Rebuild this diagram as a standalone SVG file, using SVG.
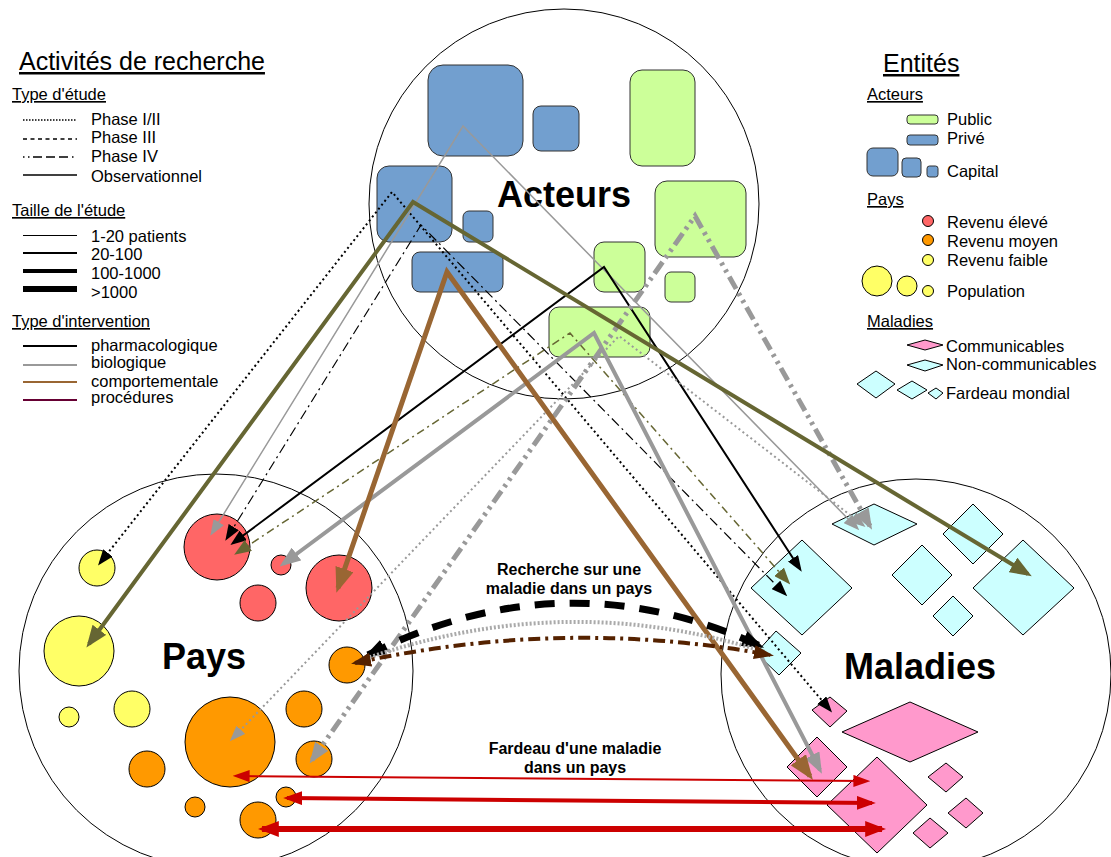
<svg xmlns="http://www.w3.org/2000/svg" width="1111" height="857" viewBox="0 0 1111 857">
  <style>
    text { font-family: "Liberation Sans", Arial, sans-serif; fill: #000; }
    .title { font-size: 25px; text-decoration: underline; }
    .sub { font-size: 16.5px; text-decoration: underline; }
    .lg { font-size: 16.5px; }
    .big { font-size: 36px; font-weight: bold; }
    .lbl { font-size: 16px; font-weight: bold; text-anchor: middle; }
    .zone { fill: none; stroke: #000; stroke-width: 1; }
    .priv { fill: #729fcf; stroke: #333; stroke-width: 1; }
    .pub { fill: #ccff99; stroke: #333; stroke-width: 1; }
    .hi { fill: #ff6666; stroke: #000; stroke-width: 1; }
    .mid { fill: #ff9900; stroke: #000; stroke-width: 1; }
    .lo { fill: #ffff66; stroke: #000; stroke-width: 1; }
    .nc { fill: #ccffff; stroke: #000; stroke-width: 1; }
    .cm { fill: #ff99cc; stroke: #000; stroke-width: 1; }
    .c { fill: none; stroke-linejoin: miter; }
  </style>
  <defs>
    <marker id="blk-s" viewBox="0 0 10 10" refX="8" refY="5" markerWidth="16" markerHeight="12" markerUnits="userSpaceOnUse" orient="auto-start-reverse" preserveAspectRatio="none"><path d="M0,0 L10,5 L0,10 z" fill="#000"/></marker>
    <marker id="blk-l" viewBox="0 0 10 10" refX="8" refY="5" markerWidth="22" markerHeight="16" markerUnits="userSpaceOnUse" orient="auto-start-reverse" preserveAspectRatio="none"><path d="M0,0 L10,5 L0,10 z" fill="#000"/></marker>
    <marker id="gry-s" viewBox="0 0 10 10" refX="8" refY="5" markerWidth="16" markerHeight="12" markerUnits="userSpaceOnUse" orient="auto-start-reverse" preserveAspectRatio="none"><path d="M0,0 L10,5 L0,10 z" fill="#999"/></marker>
    <marker id="gry-m" viewBox="0 0 10 10" refX="8" refY="5" markerWidth="21" markerHeight="16" markerUnits="userSpaceOnUse" orient="auto-start-reverse" preserveAspectRatio="none"><path d="M0,0 L10,5 L0,10 z" fill="#999"/></marker>
    <marker id="olv-s" viewBox="0 0 10 10" refX="8" refY="5" markerWidth="17" markerHeight="13" markerUnits="userSpaceOnUse" orient="auto-start-reverse" preserveAspectRatio="none"><path d="M0,0 L10,5 L0,10 z" fill="#666633"/></marker>
    <marker id="olv-m" viewBox="0 0 10 10" refX="8" refY="5" markerWidth="22" markerHeight="17" markerUnits="userSpaceOnUse" orient="auto-start-reverse" preserveAspectRatio="none"><path d="M0,0 L10,5 L0,10 z" fill="#666633"/></marker>
    <marker id="brn-l" viewBox="0 0 10 10" refX="8" refY="5" markerWidth="25" markerHeight="19" markerUnits="userSpaceOnUse" orient="auto-start-reverse" preserveAspectRatio="none"><path d="M0,0 L10,5 L0,10 z" fill="#996633"/></marker>
    <marker id="dbr-m" viewBox="0 0 10 10" refX="8" refY="5" markerWidth="20" markerHeight="14" markerUnits="userSpaceOnUse" orient="auto-start-reverse" preserveAspectRatio="none"><path d="M0,0 L10,5 L0,10 z" fill="#552200"/></marker>
    <marker id="red-s" viewBox="0 0 10 10" refX="8" refY="5" markerWidth="17" markerHeight="12" markerUnits="userSpaceOnUse" orient="auto-start-reverse" preserveAspectRatio="none"><path d="M0,0 L10,5 L0,10 z" fill="#cc0000"/></marker>
    <marker id="red-m" viewBox="0 0 10 10" refX="8" refY="5" markerWidth="19" markerHeight="14" markerUnits="userSpaceOnUse" orient="auto-start-reverse" preserveAspectRatio="none"><path d="M0,0 L10,5 L0,10 z" fill="#cc0000"/></marker>
    <marker id="red-l" viewBox="0 0 10 10" refX="8" refY="5" markerWidth="21" markerHeight="16" markerUnits="userSpaceOnUse" orient="auto-start-reverse" preserveAspectRatio="none"><path d="M0,0 L10,5 L0,10 z" fill="#cc0000"/></marker>
  </defs>

  <rect width="1111" height="857" fill="#fff"/>

  <!-- Left legend: research activities -->
  <g id="legend-activites">
    <text class="title" x="19" y="70">Activités de recherche</text>
    <text class="sub" x="12" y="100">Type d'étude</text>
    <line x1="23" y1="120" x2="77" y2="120" stroke="#000" stroke-width="1.5" stroke-dasharray="1.5,1.5"/>
    <text class="lg" x="91" y="125">Phase I/II</text>
    <line x1="23" y1="139" x2="77" y2="139" stroke="#000" stroke-width="1.5" stroke-dasharray="4,3.5"/>
    <text class="lg" x="91" y="143">Phase III</text>
    <line x1="23" y1="157" x2="77" y2="157" stroke="#000" stroke-width="1.5" stroke-dasharray="1.5,3.5,1.5,3.5,9,4,9,4,9,4"/>
    <text class="lg" x="91" y="162">Phase IV</text>
    <line x1="23" y1="175" x2="77" y2="175" stroke="#000" stroke-width="1.5"/>
    <text class="lg" x="91" y="182">Observationnel</text>

    <text class="sub" x="12" y="216">Taille de l'étude</text>
    <line x1="23" y1="235.5" x2="77" y2="235.5" stroke="#000" stroke-width="1"/>
    <text class="lg" x="91" y="242">1-20 patients</text>
    <line x1="23" y1="253" x2="77" y2="253" stroke="#000" stroke-width="2"/>
    <text class="lg" x="91" y="260">20-100</text>
    <line x1="23" y1="271" x2="77" y2="271" stroke="#000" stroke-width="4"/>
    <text class="lg" x="91" y="279">100-1000</text>
    <line x1="23" y1="289" x2="77" y2="289" stroke="#000" stroke-width="6"/>
    <text class="lg" x="91" y="298">&gt;1000</text>

    <text class="sub" x="12" y="327">Type d'intervention</text>
    <line x1="23" y1="346" x2="77" y2="346" stroke="#000" stroke-width="2"/>
    <text class="lg" x="91" y="351">pharmacologique</text>
    <line x1="23" y1="365" x2="77" y2="365" stroke="#999" stroke-width="2"/>
    <text class="lg" x="91" y="368">biologique</text>
    <line x1="23" y1="382" x2="77" y2="382" stroke="#996633" stroke-width="2"/>
    <text class="lg" x="91" y="387">comportementale</text>
    <line x1="23" y1="400" x2="77" y2="400" stroke="#660033" stroke-width="2"/>
    <text class="lg" x="91" y="403">procédures</text>
  </g>

  <!-- Right legend: entities -->
  <g id="legend-entites">
    <text class="title" x="883" y="72">Entités</text>
    <text class="sub" x="867" y="100">Acteurs</text>
    <rect class="pub" x="907" y="115" width="31" height="9" rx="3"/>
    <text class="lg" x="947" y="125">Public</text>
    <rect class="priv" x="907" y="135" width="31" height="10" rx="3"/>
    <text class="lg" x="947" y="144">Privé</text>
    <rect class="priv" x="867" y="148" width="31" height="28" rx="6"/>
    <rect class="priv" x="902" y="158" width="19" height="19" rx="4"/>
    <rect class="priv" x="927" y="166" width="11" height="11" rx="2.5"/>
    <text class="lg" x="947" y="177">Capital</text>

    <text class="sub" x="867" y="205">Pays</text>
    <circle class="hi" cx="928" cy="221" r="5.5"/>
    <text class="lg" x="947" y="228">Revenu élevé</text>
    <circle class="mid" cx="928" cy="240" r="5.5"/>
    <text class="lg" x="947" y="247">Revenu moyen</text>
    <circle class="lo" cx="928" cy="260" r="5.5"/>
    <text class="lg" x="947" y="266">Revenu faible</text>
    <circle class="lo" cx="877" cy="281" r="15"/>
    <circle class="lo" cx="907" cy="286" r="10"/>
    <circle class="lo" cx="928" cy="291" r="5.5"/>
    <text class="lg" x="947" y="297">Population</text>

    <text class="sub" x="867" y="327">Maladies</text>
    <polygon class="cm" points="907,345 925,340 943,345 925,350"/>
    <text class="lg" x="946" y="352">Communicables</text>
    <polygon class="nc" points="907,365 925,360 943,365 925,371"/>
    <text class="lg" x="946" y="370">Non-communicables</text>
    <polygon class="nc" points="857,384 876,371 895,384 876,398"/>
    <polygon class="nc" points="897,390 912,381 927,390 912,399"/>
    <polygon class="nc" points="928,393 936,388 943,393 936,399"/>
    <text class="lg" x="946" y="399">Fardeau mondial</text>
  </g>

  <!-- Actors -->
  <g id="acteurs">
    <circle class="zone" cx="564" cy="204" r="195"/>
    <rect class="priv" x="428" y="65" width="95" height="91" rx="15"/>
    <rect class="priv" x="533" y="106" width="46" height="45" rx="8"/>
    <rect class="priv" x="377" y="166" width="75" height="76" rx="12"/>
    <rect class="priv" x="463" y="211" width="30" height="31" rx="6"/>
    <rect class="priv" x="412" y="252" width="91" height="40" rx="8"/>
    <rect class="pub" x="630" y="70" width="65" height="96" rx="12"/>
    <rect class="pub" x="655" y="181" width="91" height="76" rx="12"/>
    <rect class="pub" x="594" y="242" width="51" height="50" rx="10"/>
    <rect class="pub" x="665" y="272" width="30" height="30" rx="6"/>
    <rect class="pub" x="549" y="307" width="101" height="50" rx="10"/>
    <text class="big" x="564" y="207" text-anchor="middle">Acteurs</text>
  </g>

  <!-- Countries -->
  <g id="pays">
    <circle class="zone" cx="216" cy="671" r="197"/>
    <circle class="lo" cx="97" cy="568" r="18"/>
    <circle class="lo" cx="79" cy="651" r="35"/>
    <circle class="lo" cx="69" cy="717" r="10"/>
    <circle class="lo" cx="132" cy="709" r="18"/>
    <circle class="hi" cx="217" cy="547" r="33"/>
    <circle class="hi" cx="281" cy="565" r="10"/>
    <circle class="hi" cx="258" cy="603" r="18"/>
    <circle class="hi" cx="339" cy="588" r="33"/>
    <circle class="mid" cx="347" cy="665" r="18"/>
    <circle class="mid" cx="230" cy="742" r="45"/>
    <circle class="mid" cx="304" cy="709" r="18"/>
    <circle class="mid" cx="314" cy="759" r="18"/>
    <circle class="mid" cx="147" cy="769" r="18"/>
    <circle class="mid" cx="195" cy="807" r="10"/>
    <circle class="mid" cx="286" cy="797" r="10"/>
    <circle class="mid" cx="258" cy="820" r="18"/>
    <text class="big" x="162" y="669">Pays</text>
  </g>

  <!-- Diseases -->
  <g id="maladies">
    <circle class="zone" cx="916" cy="674" r="195"/>
    <polygon class="nc" points="832,524 874,504 917,524 874,545"/>
    <polygon class="nc" points="751,588 802,540 852,588 802,635"/>
    <polygon class="nc" points="943,534 973,504 1003,534 973,564"/>
    <polygon class="nc" points="892,575 922,545 952,575 922,605"/>
    <polygon class="nc" points="933,616 953,596 973,616 953,636"/>
    <polygon class="nc" points="973,588 1023,540 1074,588 1023,635"/>
    <polygon class="nc" points="756,653 776,631 801,653 779,675"/>
    <polygon class="cm" points="812,710 830,697 847,711 830,727"/>
    <polygon class="cm" points="842,732 910,702 978,732 910,762"/>
    <polygon class="cm" points="787,767 817,737 847,767 817,797"/>
    <polygon class="cm" points="827,805 877,757 927,805 877,853"/>
    <polygon class="cm" points="928,777 946,763 963,777 946,792"/>
    <polygon class="cm" points="948,813 966,798 983,813 966,828"/>
    <polygon class="cm" points="913,833 930,818 948,833 930,848"/>
    <text class="big" x="844" y="679">Maladies</text>
  </g>

  <!-- Labels of the country/disease links -->
  <g id="labels">
    <text class="lbl" x="569" y="575">Recherche sur une</text>
    <text class="lbl" x="569" y="594">maladie dans un pays</text>
    <text class="lbl" x="575" y="754">Fardeau d'une maladie</text>
    <text class="lbl" x="575" y="773">dans un pays</text>
  </g>

  <!-- Connectors: research activities (country <- actor -> disease) and links -->
  <g id="connecteurs">
    <path class="c" d="M100,563 L392,192 L830,710" stroke="#000" stroke-width="2" stroke-dasharray="2,3" marker-start="url(#blk-s)" marker-end="url(#blk-s)"/>
    <path class="c" d="M212,533 L463,126 L857,528" stroke="#999" stroke-width="1.5" marker-start="url(#gry-s)" marker-end="url(#gry-s)"/>
    <path class="c" d="M227,538 L421,225 L785,594" stroke="#000" stroke-width="1.2" stroke-dasharray="10,4,2,4" marker-start="url(#blk-s)" marker-end="url(#blk-s)"/>
    <path class="c" d="M233,543 L604,267 L800,569" stroke="#000" stroke-width="2" marker-start="url(#blk-s)" marker-end="url(#blk-s)"/>
    <path class="c" d="M237,553 L570,333 L788,582" stroke="#666633" stroke-width="1.5" stroke-dasharray="8,4,2,4" marker-start="url(#olv-s)" marker-end="url(#olv-s)"/>
    <path class="c" d="M232,739 L619,336 L863,525" stroke="#999" stroke-width="2" stroke-dasharray="2,3" marker-start="url(#gry-s)" marker-end="url(#gry-s)"/>
    <path class="c" d="M312,760 L695,216 L870,526" stroke="#999" stroke-width="5" stroke-dasharray="14,5,3,5,3,5" marker-start="url(#gry-m)" marker-end="url(#gry-m)"/>
    <path class="c" d="M283,564 L594,333 L820,770" stroke="#999" stroke-width="4" marker-start="url(#gry-m)" marker-end="url(#gry-m)"/>
    <path class="c" d="M338,588 L447,272 L810,776" stroke="#996633" stroke-width="5" marker-start="url(#brn-l)" marker-end="url(#brn-l)"/>
    <path class="c" d="M89,644 L413,202 L1028,574" stroke="#666633" stroke-width="4" marker-start="url(#olv-m)" marker-end="url(#olv-m)"/>

    <!-- research on a disease in a country -->
    <path class="c" d="M368,655 Q565,556 760,646" stroke="#000" stroke-width="7" stroke-dasharray="20,15" marker-start="url(#blk-l)" marker-end="url(#blk-l)"/>
    <path class="c" d="M362,660 Q565,588 765,652" stroke="#aaa" stroke-width="4" stroke-dasharray="2,2"/>
    <path class="c" d="M355,663 Q565,617 770,655" stroke="#552200" stroke-width="4" stroke-dasharray="12,5,3,5" marker-start="url(#dbr-m)" marker-end="url(#dbr-m)"/>

    <!-- burden of a disease in a country -->
    <path class="c" d="M236,776 L867,781" stroke="#cc0000" stroke-width="2" marker-start="url(#red-s)" marker-end="url(#red-s)"/>
    <path class="c" d="M287,798 L872,803" stroke="#cc0000" stroke-width="4" marker-start="url(#red-m)" marker-end="url(#red-m)"/>
    <path class="c" d="M262,829 L882,829" stroke="#cc0000" stroke-width="6" marker-start="url(#red-l)" marker-end="url(#red-l)"/>
  </g>
</svg>
